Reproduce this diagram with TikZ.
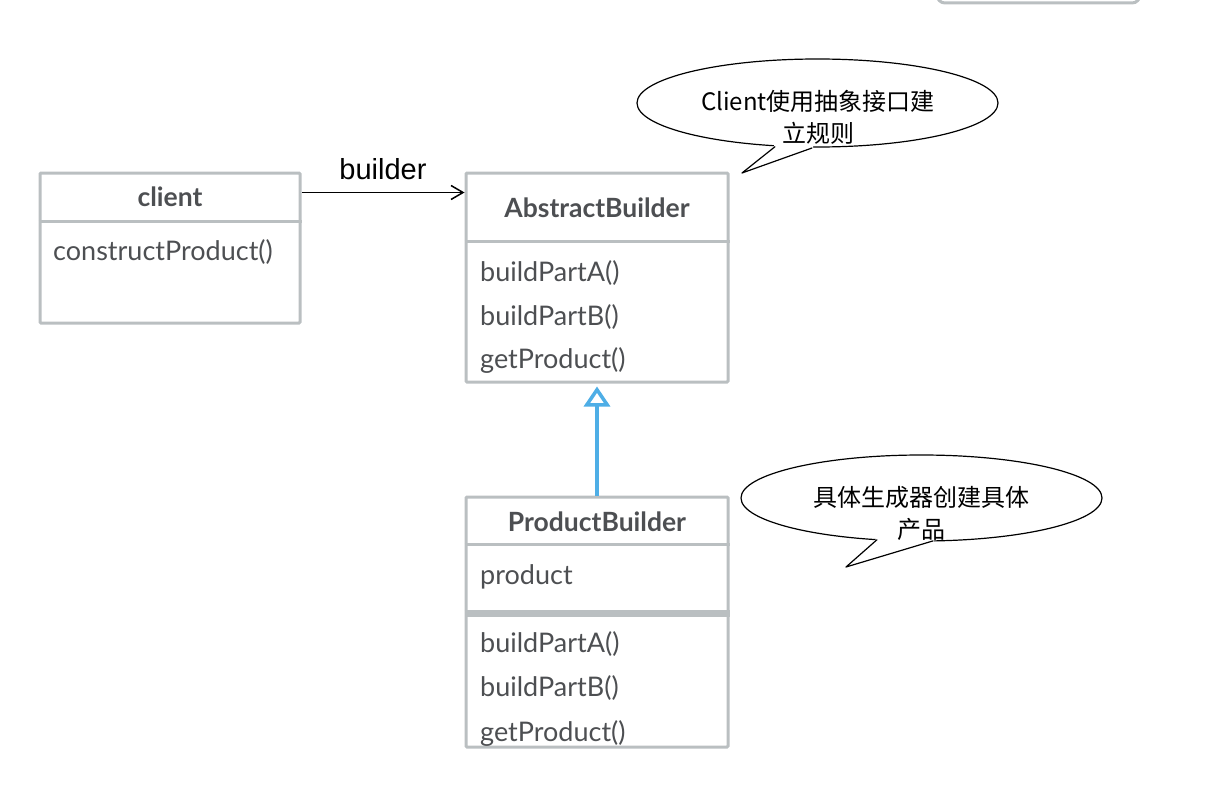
\documentclass[tikz,border=0pt]{standalone}
\usepackage{fontspec}
\setmainfont{Lato}
\newfontfamily\cjkfont{Noto Sans CJK SC}
\newfontfamily\helvfont{Liberation Sans}
\usepackage{tikz}
\usetikzlibrary{arrows.meta,positioning,calc,shapes.geometric}
\usepackage{xcolor}
\definecolor{boxgray}{RGB}{186, 191, 193}
\definecolor{textgray}{RGB}{77, 79, 82}
\definecolor{arrowblue}{RGB}{78, 174, 230}

\begin{document}
\begin{tikzpicture}[x=1pt,y=-1pt,
    classbox/.style={draw=boxgray, line width=3pt, rounded corners=1pt, minimum width=262pt, inner sep=0pt},
    divider/.style={draw=boxgray, line width=3pt},
    classname/.style={text=textgray, font=\bfseries\fontsize{26.5}{31}\selectfont},
    member/.style={text=textgray, font=\fontsize{27}{32}\selectfont, anchor=west, inner sep=0pt},
    bubble/.style={ellipse, draw, line width=1.2pt, fill=white, minimum width=361pt, minimum height=88pt, inner sep=0pt},
    bubbletext/.style={font=\cjkfont\fontsize{24}{32}\selectfont, align=center}]
    \useasboundingbox (0,0) rectangle (1210,792);

    % Panel edge at the top
    \draw[boxgray, line width=3pt, rounded corners=8pt] (937,-30) rectangle (1140,3);

    % Class boxes
    \node[classbox, minimum width=260pt, minimum height=150pt] (client) at (170,248) {};
    \node[classbox, minimum height=209pt] (abstract) at (597,277.5) {};
    \node[classbox, minimum height=250pt] (product) at (597,622) {};

    % Dividers
    \draw[divider] ([yshift=-50pt]client.north west) -- ([yshift=-50pt]client.north east);
    \draw[divider] ([yshift=-70pt]abstract.north west) -- ([yshift=-70pt]abstract.north east);
    \draw[divider] ([yshift=-49pt]product.north west) -- ([yshift=-49pt]product.north east);
    \draw[divider, line width=7pt] ([yshift=-117.5pt]product.north west) -- ([yshift=-117.5pt]product.north east);

    % Class texts
    \node[classname] (clientname) at (170,197) {client};
    \node[member] (construct) at (53,252) {constructProduct()};

    \node[classname] (abstractname) at (597,208) {AbstractBuilder};
    \node[member] (abuildA) at (480,273) {buildPartA()};
    \node[member] (abuildB) at (480,317) {buildPartB()};
    \node[member] (aget) at (480,360) {getProduct()};

    \node[classname] (productname) at (597,522) {ProductBuilder};
    \node[member] (pfield) at (480,577) {product};
    \node[member] (pbuildA) at (480,644) {buildPartA()};
    \node[member] (pbuildB) at (480,688) {buildPartB()};
    \node[member] (pget) at (480,733) {getProduct()};

    % Association
    \draw[line width=1.5pt, -{Straight Barb[length=12pt, width=14pt]}] ([yshift=-21pt]client.north east) -- ([yshift=-21pt]abstract.north west)
        node[midway, above=10pt, inner sep=2pt, font=\helvfont\fontsize{29}{34}\selectfont] (rolename) {builder};

    % Generalization
    \draw[arrowblue, line width=3.5pt, -{Triangle[open, length=20pt, width=26pt]}, shorten >=3pt] (product.north) -- (abstract.south);

    % Callout for the client
    \node[bubble] (note1) at (817.5,103) {};
    \coordinate (n1tip) at (742,173);
    \coordinate (n1a) at (775,146.7);
    \coordinate (n1b) at (812,148);
    \filldraw[white, line width=2pt] (n1a) -- (n1tip) -- (n1b) -- ([yshift=5pt]n1b) -- ([yshift=5pt]n1a) -- cycle;
    \draw[line width=1.2pt, line cap=round, line join=round] (n1a) -- (n1tip) -- (n1b);
    \node[bubbletext] (note1text) at (818,117) {Client使用抽象接口建\\立规则};

    % Callout for the concrete builder
    \node[bubble, minimum height=86pt] (note2) at (921.5,498) {};
    \coordinate (n2tip) at (846,567);
    \coordinate (n2a) at (877,539.7);
    \coordinate (n2b) at (933,540.9);
    \filldraw[white, line width=2pt] (n2a) -- (n2tip) -- (n2b) -- ([yshift=5pt]n2b) -- ([yshift=5pt]n2a) -- cycle;
    \draw[line width=1.2pt, line cap=round, line join=round] (n2a) -- (n2tip) -- (n2b);
    \node[bubbletext] (note2text) at (921.5,513) {具体生成器创建具体\\产品};
\end{tikzpicture}
\end{document}
